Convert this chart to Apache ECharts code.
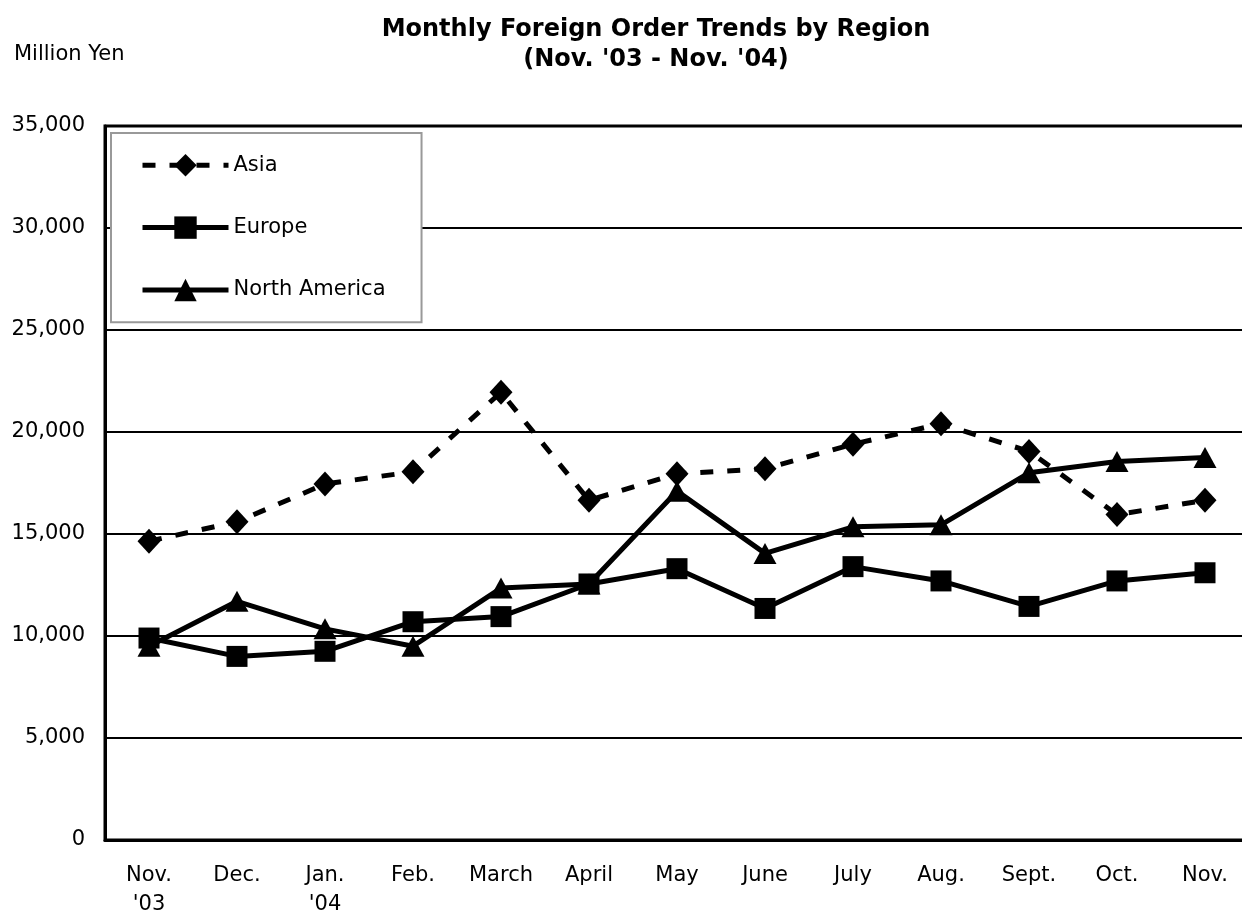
<!DOCTYPE html>
<html lang="en">
<head>
    <meta charset="UTF-8">
    <title>Monthly Foreign Order Trends by Region</title>
    <script src="https://cdn.jsdelivr.net/npm/echarts@6/dist/echarts.min.js"></script>
    <style>
        html, body { margin: 0; padding: 0; background: #fff; }
        #chart { width: 1242px; height: 913px; }
    </style>
</head>
<body>
    <div id="chart"></div>
<script>
    // months, Nov '03 - Nov '04
    var months = ["Nov.\n'03", "Dec.", "Jan.\n'04", "Feb.", "March", "April", "May", "June", "July", "Aug.", "Sept.", "Oct.", "Nov."];
    // million yen
    var asia = [14650, 15600, 17450, 18050, 21950, 16650, 17950, 18200, 19400, 20400, 19050, 15950, 16650];
    var europe = [9900, 9000, 9250, 10700, 10950, 12550, 13300, 11350, 13400, 12700, 11450, 12700, 13100];
    var northAmerica = [9500, 11700, 10350, 9500, 12350, 12550, 17100, 14050, 15350, 15450, 18000, 18550, 18750];
    var yTicks = [0, 5000, 10000, 15000, 20000, 25000, 30000, 35000];

    var font = '"DejaVu Sans", sans-serif';
    var chart = echarts.init(document.getElementById('chart'));

    chart.setOption({
        animation: false,
        backgroundColor: '#fff',
        title: [{
            text: "Monthly Foreign Order Trends by Region\n(Nov. '03 - Nov. '04)",
            left: 651,
            top: 10,
            textAlign: 'center',
            textStyle: { fontFamily: font, fontSize: 24, fontWeight: 'bold', color: '#000', lineHeight: 30 }
        }, {
            text: 'Million Yen',
            left: 9,
            top: 39,
            textStyle: { fontFamily: font, fontSize: 21, fontWeight: 'normal', color: '#000' }
        }],
        legend: {
            orient: 'vertical',
            left: 111,
            top: 133,
            padding: [21, 36, 21, 29],
            itemGap: 40,
            itemWidth: 86,
            itemHeight: 28,
            backgroundColor: '#fff',
            borderColor: '#999',
            borderWidth: 2,
            lineStyle: { width: 5 },
            textStyle: { fontFamily: font, fontSize: 21, color: '#000' },
            data: ['Asia', 'Europe', 'North America']
        },
        grid: {
            left: 105,
            right: -7,
            top: 126,
            bottom: 73,
            outerBoundsMode: 'none',
            show: true,
            borderColor: '#000',
            borderWidth: 3
        },
        xAxis: {
            type: 'category',
            data: months,
            boundaryGap: true,
            axisLine: { lineStyle: { color: '#000', width: 3 } },
            axisTick: { inside: true, length: 8, lineStyle: { color: '#000', width: 2 } },
            axisLabel: { fontFamily: font, fontSize: 21, color: '#000', margin: 21, lineHeight: 29, interval: 0 }
        },
        yAxis: {
            type: 'value',
            min: yTicks[0],
            max: yTicks[yTicks.length - 1],
            interval: 5000,
            axisLine: { show: true, lineStyle: { color: '#000', width: 3 } },
            axisTick: { show: false },
            splitLine: { lineStyle: { color: '#000', width: 2 } },
            axisLabel: {
                fontFamily: font, fontSize: 21, color: '#000', margin: 20,
                formatter: function (v) { return v.toLocaleString('en-US'); }
            }
        },
        series: [{
            name: 'Asia',
            type: 'line',
            data: asia,
            symbol: 'diamond',
            symbolSize: [23, 25],
            color: '#000',
            lineStyle: { color: '#000', width: 5, type: [13, 14] },
            itemStyle: { color: '#000' },
            z: 3
        }, {
            name: 'Europe',
            type: 'line',
            data: europe,
            symbol: 'rect',
            symbolSize: 21,
            color: '#000',
            lineStyle: { color: '#000', width: 5 },
            itemStyle: { color: '#000' },
            z: 2
        }, {
            name: 'North America',
            type: 'line',
            data: northAmerica,
            symbol: 'triangle',
            symbolSize: [23, 21],
            color: '#000',
            lineStyle: { color: '#000', width: 5 },
            itemStyle: { color: '#000' },
            z: 4
        }]
    });
</script>
</body>
</html>
